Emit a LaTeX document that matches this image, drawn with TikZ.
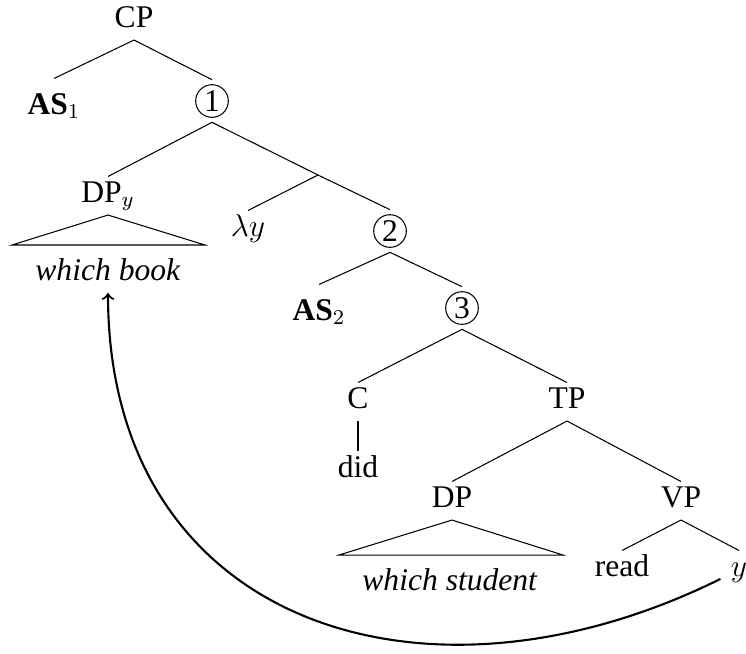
\documentclass[12pt,tikz,border=0pt]{standalone}
\usepackage[no-math]{fontspec}
\setmainfont{Liberation Serif}

\begin{document}
\begin{tikzpicture}[x=0.38pt, y=-0.38pt,
	lbl/.style={anchor=base, inner sep=0pt, text height=9.5pt, text depth=4.75pt},
	asl/.style={lbl, text height=13.3pt},
	num/.style={circle, draw, minimum size=12.4pt, inner sep=0pt, outer sep=1.9pt}]
	\useasboundingbox (0,0) rectangle (746,653);
	\node [lbl] (CP) at (134,27) {CP};
	\node [asl] (AS1) at (54,114) {\textbf{AS}$_1$};
	\node [num] (n1) at (212,101) {1};
	\node [lbl] (DPy) at (108,202) {DP$_y$};
	\node [lbl] (book) at (108,280) {\textit{which book}};
	\coordinate (m1) at (318,175);
	\node [lbl] (lam) at (248,236) {$\lambda y$};
	\node [num] (n2) at (390,231) {2};
	\node [asl] (AS2) at (319,320) {\textbf{AS}$_2$};
	\node [num] (n3) at (462,308) {3};
	\node [lbl] (C) at (358,408) {C};
	\node [lbl] (TP) at (567,408) {TP};
	\node [lbl] (did) at (358,477) {did};
	\node [lbl] (DP) at (452,507) {DP};
	\node [lbl] (VP) at (681,507) {VP};
	\node [lbl] (student) at (450,590) {\textit{which student}};
	\node [lbl] (read) at (622,576) {read};
	\node [lbl, inner xsep=3.8pt] (yv) at (739,576) {$y$};
	\coordinate (A) at (12,245);
	\coordinate (B) at (205,245);
	\coordinate (D) at (339,555);
	\coordinate (E) at (563,555);
	\draw (CP.south) -- (AS1.north);
	\draw (CP.south) -- (n1.north);
	\draw (n1.south) -- (DPy.north);
	\draw (n1.south) -- (m1);
	\draw (m1) -- (lam.north);
	\draw (m1) -- (n2.north);
	\draw (DPy.south) -- (A) -- (B) -- cycle;
	\draw (n2.south) -- (AS2.north);
	\draw (n2.south) -- (n3.north);
	\draw (n3.south) -- (C.north);
	\draw (n3.south) -- (TP.north);
	\draw (C.south) -- (did.north);
	\draw (TP.south) -- (DP.north);
	\draw (TP.south) -- (VP.north);
	\draw (DP.south) -- (D) -- (E) -- cycle;
	\draw (VP.south) -- (read.north);
	\draw (VP.south) -- (yv.north);
	\draw [thick, ->] (yv) .. controls (421,727) and (108,622) .. (book);
\end{tikzpicture}
\end{document}
